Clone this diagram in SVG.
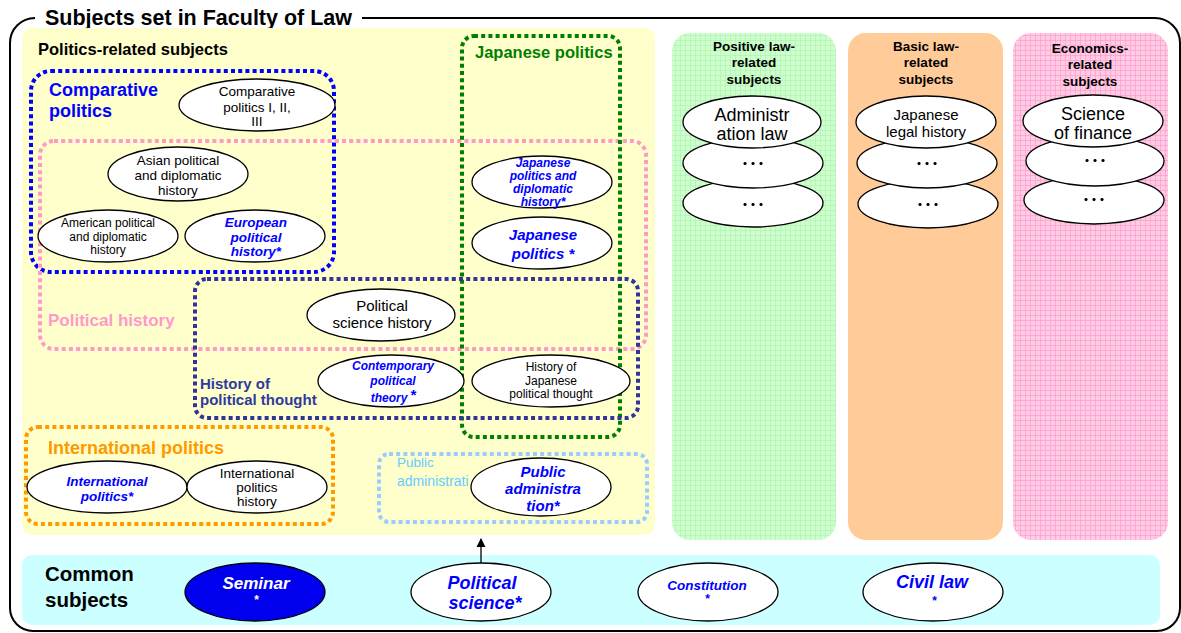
<svg xmlns="http://www.w3.org/2000/svg" width="1181" height="633" viewBox="0 0 1181 633">
  <defs>
    <pattern id="gridGreen" width="5" height="5" patternUnits="userSpaceOnUse">
      <rect width="5" height="5" fill="#CCFFCC"/>
      <path d="M0 0.5H5M0.5 0V5" stroke="#B0EEB0" stroke-width="0.6"/>
    </pattern>
    <pattern id="gridPink" width="5" height="5" patternUnits="userSpaceOnUse">
      <rect width="5" height="5" fill="#FFCCE6"/>
      <path d="M0 0.5H5M0.5 0V5" stroke="#FF99CC" stroke-width="0.7"/>
    </pattern>
    <marker id="arrow" viewBox="0 0 10 10" refX="9" refY="5" markerWidth="7" markerHeight="7" orient="auto">
      <path d="M0 0L10 5L0 10z" fill="#000"/>
    </marker>
  </defs>
  <style>
    text { font-family: "Liberation Sans", Arial, sans-serif; }
    .ell { fill: #fff; stroke: #000; stroke-width: 1.3; }
    .plain { fill: #000; text-anchor: middle; }
    .sub { fill: #0000FF; font-weight: bold; font-style: italic; text-anchor: middle; }
    .inv { fill: #fff; font-weight: bold; font-style: italic; text-anchor: middle; }
    .hd { font-weight: bold; text-anchor: middle; fill: #000; }
    .grp { fill: none; stroke-width: 4; stroke-dasharray: 4 3.2; }
    .dots { font-family: "Noto Sans CJK JP", sans-serif; font-weight: bold; text-anchor: middle; }
  </style>

  <rect width="1181" height="633" fill="#fff"/>

  <!-- outer frame with title gap -->
  <path d="M362 18H1155A25 25 0 0 1 1180 43V608A23 23 0 0 1 1157 631H33A23 23 0 0 1 10 608V43A25 25 0 0 1 35 18" fill="none" stroke="#000" stroke-width="2"/>
  <text x="45" y="25" font-size="21.5" font-weight="bold">Subjects set in Faculty of Law</text>

  <!-- politics-related panel -->
  <g id="politics-panel">
    <rect x="22" y="28" width="633" height="507" rx="10" fill="#FFFFCC"/>
    <text x="38" y="55" font-size="16.5" font-weight="bold">Politics-related subjects</text>
  </g>

  <!-- group frames -->
  <g id="group-comparative">
    <rect class="grp" x="31" y="71" width="303" height="201" rx="20" stroke="#0000FF"/>
    <text x="49" y="96" font-size="18" font-weight="bold" fill="#0000FF">Comparative</text>
    <text x="49" y="117" font-size="18" font-weight="bold" fill="#0000FF">politics</text>
  </g>
  <g id="group-history">
    <rect class="grp" x="40" y="141" width="606" height="208" rx="14" stroke="#FF99CC"/>
    <text x="48" y="326" font-size="17" font-weight="bold" fill="#FF99CC">Political history</text>
  </g>
  <g id="group-japanese">
    <rect class="grp" x="462" y="36" width="158" height="401" rx="12" stroke="#008000"/>
    <text x="475" y="58" font-size="16.5" font-weight="bold" fill="#008000">Japanese politics</text>
  </g>
  <g id="group-thought">
    <rect class="grp" x="195" y="279" width="443" height="139" rx="12" stroke="#333399"/>
    <text x="200" y="389" font-size="15" font-weight="bold" fill="#2E3A9E">History of</text>
    <text x="200" y="405" font-size="15" font-weight="bold" fill="#2E3A9E">political thought</text>
  </g>
  <g id="group-international">
    <rect class="grp" x="26" y="427" width="307" height="97" rx="12" stroke="#FF9900"/>
    <text x="48" y="454" font-size="18" font-weight="bold" fill="#FF9900">International politics</text>
  </g>
  <g id="group-public">
    <rect class="grp" x="379" y="454" width="268" height="68" rx="10" stroke="#99CCFF" stroke-width="3.5"/>
    <text x="397" y="467" font-size="13.5" fill="#66CCFF">Public</text>
    <text x="397" y="486" font-size="14" fill="#66CCFF">administrati</text>
  </g>

  <!-- politics subjects -->
  <g id="comparative-politics">
    <ellipse class="ell" cx="257" cy="105" rx="78" ry="26"/>
    <text class="plain" x="257" y="96" font-size="13.5">Comparative</text>
    <text class="plain" x="257" y="112" font-size="13.5">politics I, II,</text>
    <text class="plain" x="257" y="126" font-size="13.5">III</text>
  </g>
  <g id="asian-history">
    <ellipse class="ell" cx="178" cy="174" rx="70" ry="27"/>
    <text class="plain" x="178" y="165" font-size="13.5">Asian political</text>
    <text class="plain" x="178" y="180" font-size="13.5">and diplomatic</text>
    <text class="plain" x="178" y="195" font-size="13.5">history</text>
  </g>
  <g id="american-history">
    <ellipse class="ell" cx="108" cy="236" rx="70" ry="26"/>
    <text class="plain" x="108" y="227" font-size="12">American political</text>
    <text class="plain" x="108" y="241" font-size="12">and diplomatic</text>
    <text class="plain" x="108" y="254" font-size="12">history</text>
  </g>
  <g id="european-history">
    <ellipse class="ell" cx="255" cy="236" rx="70" ry="26"/>
    <text class="sub" x="256" y="227" font-size="13.5">European</text>
    <text class="sub" x="256" y="242" font-size="13.5">political</text>
    <text class="sub" x="256" y="256" font-size="13.5">history*</text>
  </g>
  <g id="japanese-diplomatic">
    <ellipse class="ell" cx="542" cy="182" rx="70" ry="26"/>
    <text class="sub" x="543" y="167" font-size="12">Japanese</text>
    <text class="sub" x="543" y="180" font-size="12">politics and</text>
    <text class="sub" x="543" y="193" font-size="12">diplomatic</text>
    <text class="sub" x="543" y="206" font-size="12">history*</text>
  </g>
  <g id="japanese-politics">
    <ellipse class="ell" cx="542" cy="243" rx="70" ry="26"/>
    <text class="sub" x="543" y="240" font-size="15">Japanese</text>
    <text class="sub" x="543" y="259" font-size="15">politics *</text>
  </g>
  <g id="science-history">
    <ellipse class="ell" cx="381" cy="315" rx="74" ry="26"/>
    <text class="plain" x="382" y="311" font-size="15">Political</text>
    <text class="plain" x="382" y="328" font-size="15">science history</text>
  </g>
  <g id="contemporary-theory">
    <ellipse class="ell" cx="391" cy="381" rx="73" ry="26"/>
    <text class="sub" x="393" y="370" font-size="12">Contemporary</text>
    <text class="sub" x="393" y="385" font-size="12">political</text>
    <text class="sub" x="389" y="402" font-size="12">theory</text>
    <text class="sub" x="413" y="400" font-size="15">*</text>
  </g>
  <g id="japanese-thought">
    <ellipse class="ell" cx="551" cy="381" rx="79" ry="26"/>
    <text class="plain" x="551" y="371" font-size="12">History of</text>
    <text class="plain" x="551" y="385" font-size="12">Japanese</text>
    <text class="plain" x="551" y="398" font-size="12">political thought</text>
  </g>
  <g id="international-politics">
    <ellipse class="ell" cx="107" cy="487" rx="80" ry="26"/>
    <text class="sub" x="107" y="486" font-size="13.5">International</text>
    <text class="sub" x="107" y="501" font-size="13.5">politics*</text>
  </g>
  <g id="international-history">
    <ellipse class="ell" cx="257" cy="487" rx="70" ry="26"/>
    <text class="plain" x="257" y="478" font-size="13.5">International</text>
    <text class="plain" x="257" y="492" font-size="13.5">politics</text>
    <text class="plain" x="257" y="506" font-size="13.5">history</text>
  </g>
  <g id="public-administration">
    <ellipse class="ell" cx="541" cy="487" rx="70" ry="29"/>
    <text class="sub" x="543" y="477" font-size="15">Public</text>
    <text class="sub" x="543" y="494" font-size="15">administra</text>
    <text class="sub" x="543" y="511" font-size="15">tion*</text>
  </g>

  <!-- positive law column -->
  <g id="positive-law">
    <rect x="672" y="33" width="164" height="507" rx="18" fill="url(#gridGreen)"/>
    <text class="hd" x="754" y="51" font-size="13.5">Positive law-</text>
    <text class="hd" x="754" y="67" font-size="13.5">related</text>
    <text class="hd" x="754" y="84" font-size="13.5">subjects</text>
    <ellipse class="ell" cx="753" cy="203" rx="70" ry="24"/>
    <text class="dots" x="753" y="210" font-size="16">･･･</text>
    <ellipse class="ell" cx="753" cy="163" rx="70" ry="25"/>
    <text class="dots" x="753" y="169" font-size="16">･･･</text>
    <ellipse class="ell" cx="752" cy="122" rx="69" ry="26"/>
    <text class="plain" x="752" y="121" font-size="18">Administr</text>
    <text class="plain" x="752" y="140" font-size="18">ation law</text>
  </g>

  <!-- basic law column -->
  <g id="basic-law">
    <rect x="848" y="33" width="155" height="507" rx="18" fill="#FFCC99"/>
    <text class="hd" x="926" y="51" font-size="13.5">Basic law-</text>
    <text class="hd" x="926" y="67" font-size="13.5">related</text>
    <text class="hd" x="926" y="84" font-size="13.5">subjects</text>
    <ellipse class="ell" cx="928" cy="204" rx="70" ry="24"/>
    <text class="dots" x="928" y="210" font-size="16">･･･</text>
    <ellipse class="ell" cx="927" cy="163" rx="70" ry="25"/>
    <text class="dots" x="927" y="169" font-size="16">･･･</text>
    <ellipse class="ell" cx="926" cy="122" rx="70" ry="26"/>
    <text class="plain" x="926" y="120" font-size="15">Japanese</text>
    <text class="plain" x="926" y="137" font-size="15">legal history</text>
  </g>

  <!-- economics column -->
  <g id="economics">
    <rect x="1013" y="33" width="155" height="507" rx="18" fill="url(#gridPink)"/>
    <text class="hd" x="1090" y="53" font-size="13.5">Economics-</text>
    <text class="hd" x="1090" y="69" font-size="13.5">related</text>
    <text class="hd" x="1090" y="86" font-size="13.5">subjects</text>
    <ellipse class="ell" cx="1094" cy="200" rx="70" ry="24"/>
    <text class="dots" x="1094" y="205" font-size="16">･･･</text>
    <ellipse class="ell" cx="1095" cy="161" rx="69" ry="25"/>
    <text class="dots" x="1095" y="166" font-size="16">･･･</text>
    <ellipse class="ell" cx="1093" cy="121" rx="70" ry="26"/>
    <text class="plain" x="1093" y="120" font-size="18">Science</text>
    <text class="plain" x="1093" y="139" font-size="18">of finance</text>
  </g>

  <!-- common subjects -->
  <g id="common">
    <rect x="22" y="555" width="1138" height="70" rx="10" fill="#CCFFFF"/>
    <text x="45" y="581" font-size="20.5" font-weight="bold">Common</text>
    <text x="45" y="607" font-size="20.5" font-weight="bold">subjects</text>
  </g>
  <g id="seminar">
    <ellipse cx="255" cy="592" rx="70" ry="29" fill="#0000EE" stroke="#000" stroke-width="1.3"/>
    <text class="inv" x="256" y="589" font-size="17">Seminar</text>
    <text class="inv" x="256" y="604" font-size="12">*</text>
  </g>
  <g id="political-science">
    <ellipse class="ell" cx="481" cy="592" rx="70" ry="29"/>
    <text class="sub" x="482" y="589" font-size="18">Political</text>
    <text class="sub" x="485" y="609" font-size="18">science*</text>
  </g>
  <g id="constitution">
    <ellipse class="ell" cx="708" cy="592" rx="70" ry="29"/>
    <text class="sub" x="707" y="590" font-size="13.5">Constitution</text>
    <text class="sub" x="707" y="603" font-size="12">*</text>
  </g>
  <g id="civil-law">
    <ellipse class="ell" cx="933" cy="592" rx="70" ry="29"/>
    <text class="sub" x="932" y="588" font-size="18">Civil law</text>
    <text class="sub" x="934" y="605" font-size="12">*</text>
  </g>

  <!-- connectors -->
  <g id="connectors">
    <line x1="481" y1="563" x2="481" y2="539" stroke="#000" stroke-width="1.3" marker-end="url(#arrow)"/>
  </g>
</svg>
